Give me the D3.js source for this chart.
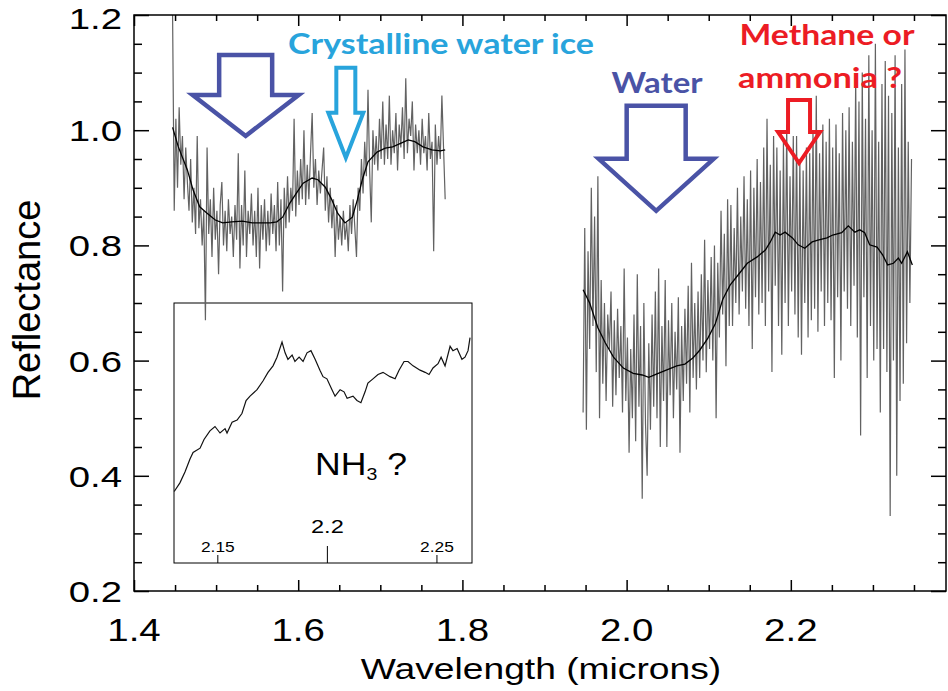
<!DOCTYPE html>
<html lang="en">
<head>
<meta charset="utf-8">
<title>Reflectance spectrum</title>
<script src="https://cdn.jsdelivr.net/npm/d3@7"></script>
<style>
  body { margin: 0; background: #fff; }
  svg text { font-family: "Liberation Sans", Arial, sans-serif; fill: #000; }
  text.note { font-family: Lato, "Open Sans", sans-serif; font-weight: 700; }
</style>
</head>
<body>
<script>
// spectrum, first window (1.447 .. 1.779 microns, step 0.002)
const bandAStart = 1.447;
const bandBStart = 1.947;
const bandStep = 0.002;
const bandA = [
  1.20, 0.86, 1.02, 0.90, 1.04, 0.94, 0.99, 0.88, 0.97, 0.91,
  0.86, 0.95, 0.84, 0.90, 0.82, 0.99, 0.83, 0.88, 0.80, 0.86,
  0.67, 0.97, 0.82, 0.88, 0.78, 0.90, 0.81, 0.86, 0.75, 0.87,
  0.91, 0.80, 0.86, 0.79, 0.88, 0.82, 0.85, 0.78, 0.87, 0.81,
  0.96, 0.76, 0.87, 0.80, 0.93, 0.78, 0.86, 0.82, 0.89, 0.80,
  0.86, 0.78, 0.90, 0.76, 0.87, 0.81, 0.88, 0.79, 0.86, 0.80,
  0.89, 0.82, 0.87, 0.79, 0.91, 0.80, 0.88, 0.72, 0.90, 0.83,
  0.92, 0.84, 0.90, 0.86, 1.02, 0.85, 0.93, 0.87, 0.95, 0.88,
  1.00, 0.87, 0.94, 0.88, 0.96, 1.03, 0.90, 0.95, 0.87, 0.93,
  0.89, 0.93, 0.97, 0.86, 0.92, 0.84, 0.90, 0.83, 0.88, 0.78,
  0.87, 0.81, 0.85, 0.80, 0.86, 0.81, 0.84, 0.79, 0.87, 0.82,
  0.88, 0.83, 0.78, 0.90, 0.86, 0.95, 0.89, 0.98, 0.92, 1.07,
  0.93, 0.84, 1.00, 0.94, 0.99, 0.93, 1.02, 0.95, 1.05, 0.94,
  1.01, 0.95, 1.06, 0.94, 1.00, 0.96, 1.03, 0.93, 1.01, 0.97,
  1.04, 0.95, 1.09, 0.96, 1.02, 0.99, 1.05, 0.93, 1.01, 0.96,
  1.00, 0.94, 1.02, 0.96, 0.99, 0.93, 1.03, 0.95, 0.98, 0.79,
  1.01, 0.94, 0.99, 0.95, 1.06, 0.97, 0.88
];
// second window (1.947 .. 2.347 microns)
const bandB = [
  0.51, 0.83, 0.48, 0.79, 0.62, 0.90, 0.66, 0.85, 0.58, 0.92,
  0.50, 0.74, 0.56, 0.70, 0.53, 0.68, 0.62, 0.72, 0.52, 0.67,
  0.54, 0.69, 0.57, 0.66, 0.51, 0.76, 0.53, 0.64, 0.44, 0.62,
  0.50, 0.68, 0.46, 0.75, 0.52, 0.66, 0.36, 0.70, 0.49, 0.40,
  0.63, 0.48, 0.68, 0.52, 0.72, 0.50, 0.76, 0.45, 0.66, 0.53,
  0.74, 0.45, 0.67, 0.54, 0.70, 0.50, 0.65, 0.55, 0.71, 0.44,
  0.66, 0.53, 0.69, 0.56, 0.73, 0.51, 0.77, 0.57, 0.70, 0.55,
  0.72, 0.57, 0.75, 0.60, 0.81, 0.58, 0.74, 0.62, 0.78, 0.60,
  0.80, 0.50, 0.77, 0.64, 0.86, 0.68, 0.82, 0.59, 0.88, 0.66,
  0.87, 0.66, 0.83, 0.70, 0.90, 0.68, 0.85, 0.72, 0.92, 0.69,
  0.88, 0.66, 0.93, 0.62, 0.90, 0.71, 0.95, 0.68, 0.91, 0.70,
  0.97, 0.66, 1.02, 0.72, 0.94, 0.58, 0.99, 0.73, 0.97, 0.66,
  0.93, 0.61, 0.98, 0.70, 1.01, 0.66, 0.92, 0.72, 0.99, 0.68,
  0.99, 0.64, 0.95, 0.61, 0.93, 0.70, 0.97, 0.64, 0.96, 0.67,
  1.00, 0.69, 1.06, 0.65, 0.96, 0.72, 1.01, 0.66, 0.98, 0.70,
  1.02, 0.67, 0.97, 0.57, 1.01, 0.71, 0.96, 0.60, 1.03, 0.72,
  1.00, 0.69, 1.04, 0.66, 0.98, 0.73, 1.09, 0.64, 1.05, 0.47,
  1.10, 0.71, 1.02, 0.57, 1.13, 0.66, 1.00, 0.60, 1.15, 0.62,
  0.98, 0.51, 1.08, 0.62, 1.12, 0.58, 1.06, 0.33, 1.03, 0.60,
  1.13, 0.40, 0.97, 0.53, 1.08, 0.56, 1.14, 0.63, 0.98, 0.70,
  0.95
];

// running mean (black curves)
const smoothAWave = [1.447, 1.454, 1.465, 1.472, 1.480, 1.489, 1.499, 1.508, 1.519, 1.532,
  1.544, 1.553, 1.566, 1.574, 1.581, 1.590, 1.598, 1.606, 1.617, 1.624, 1.633, 1.641,
  1.648, 1.657, 1.666, 1.672, 1.678, 1.685, 1.696, 1.706, 1.715, 1.726, 1.734, 1.742,
  1.752, 1.763, 1.773, 1.779];
const smoothARefl = [1.005, 0.971, 0.931, 0.896, 0.867, 0.856, 0.844, 0.839, 0.841, 0.842,
  0.839, 0.839, 0.839, 0.841, 0.849, 0.874, 0.891, 0.908, 0.917, 0.914, 0.901, 0.879,
  0.856, 0.839, 0.849, 0.879, 0.914, 0.945, 0.962, 0.969, 0.971, 0.978, 0.983, 0.980,
  0.971, 0.966, 0.964, 0.966];
const smoothBWave = [1.947, 1.955, 1.965, 1.974, 1.984, 1.996, 2.008, 2.019, 2.027, 2.037,
  2.049, 2.061, 2.071, 2.081, 2.089, 2.099, 2.108, 2.117, 2.126, 2.136, 2.147, 2.159,
  2.169, 2.175, 2.181, 2.187, 2.193, 2.202, 2.209, 2.217, 2.226, 2.233, 2.244, 2.251,
  2.262, 2.270, 2.278, 2.284, 2.290, 2.296, 2.305, 2.312, 2.318, 2.325, 2.331, 2.335,
  2.342, 2.348];
const smoothBRefl = [0.723, 0.700, 0.657, 0.631, 0.606, 0.587, 0.578, 0.575, 0.571, 0.577,
  0.584, 0.591, 0.594, 0.605, 0.618, 0.639, 0.664, 0.706, 0.731, 0.749, 0.769, 0.780,
  0.792, 0.806, 0.823, 0.818, 0.823, 0.813, 0.801, 0.795, 0.806, 0.809, 0.813, 0.818,
  0.822, 0.834, 0.823, 0.827, 0.822, 0.801, 0.797, 0.783, 0.766, 0.769, 0.778, 0.769,
  0.789, 0.766];

// inset: 2.13 - 2.27 micron zoom
const insetWave = [2.1301, 2.1327, 2.1350, 2.1373, 2.1387, 2.1419, 2.1437, 2.1464, 2.1487, 2.1510,
  2.1533, 2.1542, 2.1565, 2.1588, 2.1610, 2.1629, 2.1647, 2.1679, 2.1706, 2.1729, 2.1752,
  2.1770, 2.1793, 2.1807, 2.1820, 2.1839, 2.1852, 2.1871, 2.1889, 2.1907, 2.1925, 2.1944,
  2.1966, 2.1980, 2.1998, 2.2021, 2.2035, 2.2058, 2.2076, 2.2090, 2.2117, 2.2135, 2.2153,
  2.2172, 2.2185, 2.2208, 2.2231, 2.2254, 2.2286, 2.2309, 2.2327, 2.2350, 2.2368, 2.2391,
  2.2423, 2.2446, 2.2464, 2.2482, 2.2505, 2.2519, 2.2537, 2.2560, 2.2573, 2.2592, 2.2614,
  2.2628, 2.2642, 2.2651];
const insetRefl = [0.773, 0.777, 0.782, 0.788, 0.791, 0.793, 0.797, 0.801, 0.803, 0.800,
  0.802, 0.800, 0.805, 0.806, 0.809, 0.815, 0.817, 0.820, 0.824, 0.828, 0.831,
  0.835, 0.842, 0.837, 0.834, 0.836, 0.833, 0.835, 0.833, 0.837, 0.838, 0.834,
  0.829, 0.826, 0.825, 0.820, 0.817, 0.820, 0.819, 0.816, 0.817, 0.815, 0.814,
  0.819, 0.823, 0.825, 0.827, 0.828, 0.826, 0.825, 0.829, 0.833, 0.833, 0.831,
  0.829, 0.828, 0.827, 0.830, 0.832, 0.835, 0.831, 0.840, 0.838, 0.839, 0.834,
  0.835, 0.838, 0.844];

const xMajor = [1.4, 1.6, 1.8, 2.0, 2.2];
const xMinor = [1.45, 1.5, 1.55, 1.65, 1.7, 1.75, 1.85, 1.9, 1.95, 2.05, 2.1, 2.15, 2.25, 2.3, 2.35];
const yMajor = [0.2, 0.4, 0.6, 0.8, 1.0, 1.2];
const yMinor = [0.25, 0.3, 0.35, 0.45, 0.5, 0.55, 0.65, 0.7, 0.75, 0.85, 0.9, 0.95, 1.05, 1.1, 1.15];
const insetTicks = [2.15, 2.2, 2.25];

// absorption markers: [wavelength, reflectance at tip]
const markWave = [1.536, 1.658, 2.036, 2.210];
const markRefl = [0.990, 0.952, 0.860, 0.943];
const markNames = ["", "Crystalline water ice", "Water", "Methane or|ammonia ?"];

const width = 948, height = 691;
const stretch = 1.24; // original figure is wider than tall

const svg = d3.select("body").append("svg")
  .attr("width", width)
  .attr("height", height);

const x = d3.scaleLinear().domain([1.4, 2.389]).range([134, 946]);
const y = d3.scaleLinear().domain([0.2, 1.2]).range([591, 15]);

function widen(sel, k) {
  sel.each(function () {
    const w = this.getComputedTextLength();
    this.setAttribute("textLength", w * k);
    this.setAttribute("lengthAdjust", "spacingAndGlyphs");
  });
}

// inset box (drawn first, the spectrum runs over it)
const xi = d3.scaleLinear().domain([2.13, 2.266]).range([174, 472]);
const yi = d3.scaleLinear().domain([0.74, 0.86]).range([563, 303]);
const inset = svg.append("g").attr("class", "inset");
inset.append("rect")
  .attr("x", xi.range()[0]).attr("y", yi.range()[1])
  .attr("width", xi.range()[1] - xi.range()[0])
  .attr("height", yi.range()[0] - yi.range()[1])
  .attr("fill", "none").attr("stroke", "#000").attr("stroke-width", 1);
inset.append("path")
  .datum(d3.zip(insetWave, insetRefl))
  .attr("fill", "none").attr("stroke", "#111").attr("stroke-width", 1.2)
  .attr("d", d3.line().x(d => xi(d[0])).y(d => yi(d[1])));
inset.selectAll("line.itick")
  .data(insetTicks)
  .join("line")
  .attr("class", "itick")
  .attr("x1", d => xi(d)).attr("x2", d => xi(d))
  .attr("y1", yi.range()[0]).attr("y2", d => yi.range()[0] - (d === 2.2 ? 17 : 8))
  .attr("stroke", "#000");
inset.selectAll("text.ilab")
  .data(insetTicks)
  .join("text")
  .attr("class", "ilab")
  .attr("x", d => xi(d))
  .attr("y", d => d === 2.2 ? 533 : 552)
  .attr("text-anchor", "middle")
  .attr("font-size", d => d === 2.2 ? 19 : 14)
  .text(d => d === 2.2 ? "2.2" : d3.format(".2f")(d))
  .call(widen, stretch);
const nh3 = inset.append("text")
  .attr("x", 361).attr("y", 475)
  .attr("text-anchor", "middle")
  .attr("font-size", 31);
nh3.append("tspan").text("NH");
nh3.append("tspan").attr("font-size", 17).attr("dy", 5).text("3");
nh3.append("tspan").attr("dy", -5).text(" ?");
nh3.attr("textLength", 92).attr("lengthAdjust", "spacingAndGlyphs");

// gray spectrum
const rows = (vals, start) => vals.map((r, i) => [start + i * bandStep, r]);
const line = d3.line().x(d => x(d[0])).y(d => y(d[1]));
svg.append("g")
  .selectAll("path")
  .data([rows(bandA, bandAStart), rows(bandB, bandBStart)])
  .join("path")
  .attr("fill", "none")
  .attr("stroke", "#626262")
  .attr("stroke-width", 1.2)
  .attr("d", line);

// smoothed spectrum
svg.append("g")
  .selectAll("path")
  .data([d3.zip(smoothAWave, smoothARefl), d3.zip(smoothBWave, smoothBRefl)])
  .join("path")
  .attr("fill", "none")
  .attr("stroke", "#000")
  .attr("stroke-width", 1.3)
  .attr("d", line);

// frame + ticks on all four sides
const [x0, x1] = x.range();
const [y0, y1] = y.range();
svg.append("rect")
  .attr("x", x0).attr("y", y1)
  .attr("width", x1 - x0).attr("height", y0 - y1)
  .attr("fill", "none").attr("stroke", "#000").attr("stroke-width", 1.5);

function ticks(axis, vals, size, transform) {
  const g = svg.append("g").attr("transform", transform)
    .call(axis.tickValues(vals).tickSize(size).tickSizeOuter(0).tickFormat(""));
  g.select(".domain").remove();
  g.selectAll("line").attr("stroke-width", 1.5);
  return g;
}
ticks(d3.axisBottom(x), xMajor, -11, `translate(0,${y0})`);
ticks(d3.axisBottom(x), xMinor, -6, `translate(0,${y0})`);
ticks(d3.axisTop(x), xMajor, -11, `translate(0,${y1})`);
ticks(d3.axisTop(x), xMinor, -6, `translate(0,${y1})`);
ticks(d3.axisLeft(y), yMajor, -15, `translate(${x0},0)`);
ticks(d3.axisLeft(y), yMinor, -8, `translate(${x0},0)`);
ticks(d3.axisRight(y), yMajor, -15, `translate(${x1},0)`);
ticks(d3.axisRight(y), yMinor, -8, `translate(${x1},0)`);

// tick labels
svg.append("g").selectAll("text")
  .data(xMajor)
  .join("text")
  .attr("x", d => x(d)).attr("y", 641)
  .attr("text-anchor", "middle")
  .attr("font-size", 31)
  .text(d3.format(".1f"))
  .call(widen, stretch);
svg.append("g").selectAll("text")
  .data(yMajor)
  .join("text")
  .attr("x", 122).attr("y", d => Math.max(y(d) + 11, 29))
  .attr("text-anchor", "end")
  .attr("font-size", 30)
  .text(d3.format(".1f"))
  .call(widen, stretch * 1.03);

// axis titles
svg.append("text")
  .attr("x", 541).attr("y", 679)
  .attr("text-anchor", "middle")
  .attr("font-size", 30)
  .text("Wavelength (microns)")
  .call(widen, stretch);
svg.append("text")
  .attr("transform", "translate(40,300) scale(1.02,1) rotate(-90)")
  .attr("text-anchor", "middle")
  .attr("font-size", 38)
  .text("Reflectance");

// arrows: [shaft half width, head half width, head height, total height]
const arrowSize = [[26.5, 53, 41, 81], [9.5, 17.5, 45, 90], [29.5, 57.5, 52, 105], [11, 21, 31, 63]];
const arrowColor = ["#4a53a6", "#28a4dc", "#4a53a6", "#ec1c24"];
function arrowPath(tx, ty, s) {
  const [sh, hh, hH, tH] = s;
  return `M${tx - sh},${ty - tH}H${tx + sh}V${ty - hH}H${tx + hh}L${tx},${ty}L${tx - hh},${ty - hH}H${tx - sh}Z`;
}
svg.append("g").selectAll("path")
  .data(markWave)
  .join("path")
  .attr("d", (d, i) => arrowPath(x(d), y(markRefl[i]), arrowSize[i]))
  .attr("fill", "none")
  .attr("stroke", (d, i) => arrowColor[i])
  .attr("stroke-width", (d, i) => i === 0 || i === 2 ? 4.5 : 4)
  .attr("stroke-linejoin", "miter");

// arrow captions: [center x, baseline y, width] per line
const notePlace = [[441, 54, 306], [657, 93, 91], [827, 45, 175], [820, 88, 164]];
const noteLines = [markNames[1], markNames[2], ...markNames[3].split("|")];
const noteColor = ["#28a4dc", "#4a53a6", "#ec1c24", "#ec1c24"];
svg.append("g").selectAll("text")
  .data(noteLines)
  .join("text")
  .attr("class", "note")
  .attr("x", (d, i) => notePlace[i][0])
  .attr("y", (d, i) => notePlace[i][1])
  .attr("text-anchor", "middle")
  .attr("font-size", 29)
  .style("fill", (d, i) => noteColor[i])
  .attr("textLength", (d, i) => notePlace[i][2])
  .attr("lengthAdjust", "spacingAndGlyphs")
  .text(d => d);
</script>
</body>
</html>
